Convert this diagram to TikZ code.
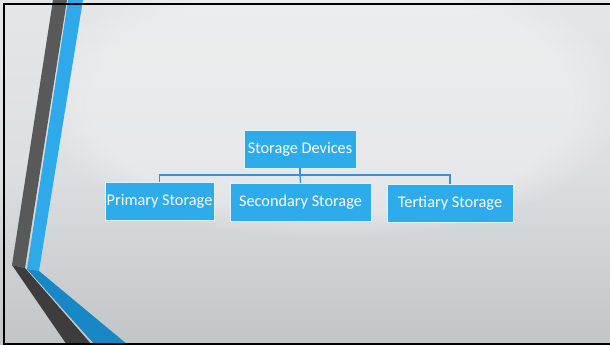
\documentclass[tikz,border=0pt]{standalone}
\usepackage{fontspec}
\setmainfont{Carlito}
\usetikzlibrary{fadings}
\definecolor{boxblue}{HTML}{2EABEA}
\definecolor{linkblue}{HTML}{3E90CC}
\definecolor{stripedark}{HTML}{595959}
\definecolor{stripedarker}{HTML}{3D3D3D}
\definecolor{stripeblue}{HTML}{2EAAEB}
\definecolor{stripebluedark}{HTML}{1887C5}
\definecolor{bgtop}{HTML}{E4E6E7}
\definecolor{bgmid}{HTML}{DCDFE0}
\definecolor{bgbot}{HTML}{C2C5C8}
\tikzset{
  orgbox/.style={draw=white!85!boxblue, line width=0.8pt, fill=boxblue, text=white,
    minimum height=38pt, inner sep=0pt, font=\fontsize{16.3}{19}\selectfont},
  link/.style={draw=linkblue, line width=1.3pt}
}
\begin{document}
\begin{tikzpicture}[x=1pt,y=-1pt]
\useasboundingbox (0,0) rectangle (610,345);
% background
\shade[top color=bgtop, bottom color=bgbot, middle color=bgmid] (0,0) rectangle (610,345);
\fill[white, opacity=0.3, path fading=circle with fuzzy edge 20 percent] (330,100) ellipse (300 and 140);
% stripes
\fill[stripedark] (53,0) -- (67,0) -- (25,268) -- (12,265) -- cycle;
\fill[stripedarker] (12,265) -- (25,268) -- (92,345) -- (67,345) -- cycle;
\fill[stripeblue] (68,0) -- (83,0) -- (39,271) -- (27,269) -- cycle;
\fill[stripebluedark] (27,269) -- (39,271) -- (128,345) -- (95,345) -- cycle;
% frame
\draw[black, line width=2.5pt] (616,4) -- (4,4) -- (4,344) -- (616,344);
% nodes
\node[orgbox, minimum width=112pt] (top) at (300,149) {Storage Devices};
\node[orgbox, minimum width=109pt] (prim) at (159.5,201) {Primary Storage};
\node[orgbox, minimum width=141pt] (sec) at (300.5,202.5) {Secondary Storage};
\node[orgbox, minimum width=126pt] (ter) at (450,203) {Tertiary Storage};
\coordinate (bus) at (300,175);
\draw[link] (top.south) -- (bus);
\draw[link] (prim.north) |- (bus) -| (ter.north);
\draw[link] (bus) -- (sec.north);
\end{tikzpicture}
\end{document}
